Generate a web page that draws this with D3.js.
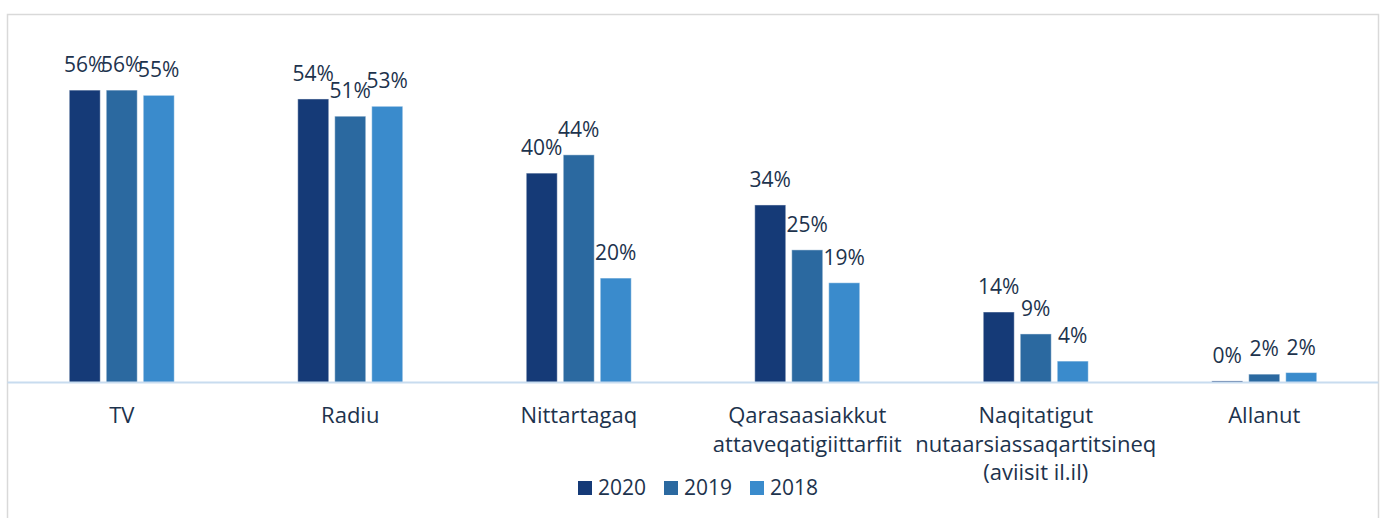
<!DOCTYPE html>
<html>
<head>
<meta charset="utf-8">
<script src="https://cdn.jsdelivr.net/npm/d3@7"></script>
<style>
  html, body { margin: 0; padding: 0; background: #ffffff; }
  svg { display: block; }
  text { font-family: "Open Sans", "Noto Sans", sans-serif; fill: #1d334d; }
</style>
</head>
<body>
<svg id="chart" width="1384" height="518"></svg>
<script>
// ---- data ----
const categories = [
  ["TV"],
  ["Radiu"],
  ["Nittartagaq"],
  ["Qarasaasiakkut", "attaveqatigiittarfiit"],
  ["Naqitatigut", "nutaarsiassaqartitsineq", "(aviisit il.il)"],
  ["Allanut"]
];
const years = ["2020", "2019", "2018"];
const values2020 = [56.0, 54.3, 40.1, 34.0, 13.5, 0.3];
const values2019 = [56.0, 51.0, 43.6, 25.4, 9.3, 1.6];
const values2018 = [55.0, 52.9, 20.0, 19.1, 4.1, 1.9];
const yTicks = [0, 10, 20, 30, 40, 50, 60, 70];

const seriesValues = { "2020": values2020, "2019": values2019, "2018": values2018 };
const colors = { "2020": "#153a77", "2019": "#2b69a0", "2018": "#3a8bcc" };

const svg = d3.select("#chart");

// chart border
svg.append("rect")
  .attr("x", 7.5).attr("y", 14.5)
  .attr("width", 1371).attr("height", 510)
  .attr("fill", "#ffffff")
  .attr("stroke", "#d9d9d9").attr("stroke-width", 1.5);

const catKeys = categories.map(c => c.join(" "));
const x0 = d3.scaleBand().domain(catKeys).range([7.5, 1378.5]).padding(0);
const p = 6 / 37;
const x1 = d3.scaleBand().domain(years).range([-55.5, 55.5]).paddingInner(p).paddingOuter(p / 2);
const y = d3.scaleLinear().domain([0, d3.max(yTicks)]).range([382.5, 17]);

const data = [];
catKeys.forEach((c, i) => {
  years.forEach(yr => data.push({ cat: c, year: yr, v: seriesValues[yr][i] }));
});

const g = svg.append("g");
g.selectAll("rect.bar").data(data).enter().append("rect")
  .attr("class", "bar")
  .attr("x", d => x0(d.cat) + x0.bandwidth() / 2 + x1(d.year))
  .attr("width", x1.bandwidth())
  .attr("y", d => y(d.v))
  .attr("height", d => y(0) - y(d.v))
  .attr("fill", d => colors[d.year])
  .attr("stroke", "#ffffff").attr("stroke-opacity", 0.45).attr("stroke-width", 1);

// baseline
svg.append("line")
  .attr("x1", 7.5).attr("x2", 1378.5)
  .attr("y1", y(0)).attr("y2", y(0))
  .attr("stroke", "#c8dcef").attr("stroke-width", 2);

// value labels
g.selectAll("text.val").data(data).enter().append("text")
  .attr("class", "val")
  .attr("x", d => x0(d.cat) + x0.bandwidth() / 2 + x1(d.year) + x1.bandwidth() / 2)
  .attr("y", d => y(d.v) - 18)
  .attr("text-anchor", "middle")
  .style("font-size", "21px")
  .text(d => Math.round(d.v) + "%");

// category labels
const cl = svg.append("g");
categories.forEach((lines, i) => {
  const cx = x0(catKeys[i]) + x0.bandwidth() / 2;
  const t = cl.append("text")
    .attr("x", cx)
    .attr("y", 423)
    .attr("text-anchor", "middle")
    .style("font-size", "22px");
  lines.forEach((ln, j) => {
    t.append("tspan").attr("x", cx)
      .attr("dy", j === 0 ? 0 : 28.5).text(ln);
  });
});

// legend
const legendX = [578, 664, 750];
const lg = svg.append("g");
years.forEach((yr, i) => {
  lg.append("rect").attr("x", legendX[i]).attr("y", 481)
    .attr("width", 14).attr("height", 14).attr("fill", colors[yr]);
  lg.append("text").attr("x", legendX[i] + 20).attr("y", 495)
    .style("font-size", "21px").text(yr);
});
</script>
</body>
</html>
